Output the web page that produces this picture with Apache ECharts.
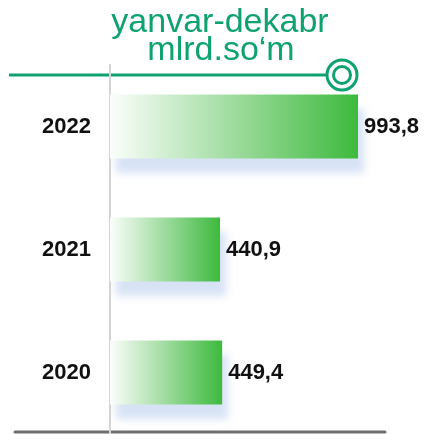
<!DOCTYPE html>
<html>
<head>
<meta charset="utf-8">
<script src="https://cdn.jsdelivr.net/npm/echarts@6/dist/echarts.min.js"></script>
<style>
html, body { margin: 0; padding: 0; background: #fff; }
#chart { width: 432px; height: 434px; }
</style>
</head>
<body>
<div id="chart"></div>
<script>
var years = ['2020', '2021', '2022']
var values = [449.4, 440.9, 993.8]
var titleLines = ['yanvar-dekabr', 'mlrd.so‘m']

var green = '#0ea271'
var labelFont = '"Liberation Sans", Arial, sans-serif'
var titleFont = '34px "Liberation Sans", Arial, sans-serif'

var myChart = echarts.init(document.getElementById('chart'))
myChart.setOption({
	animation: false,
	grid: { left: 110, right: 30, top: 65, bottom: -12 },
	xAxis: {
		type: 'value',
		min: 0,
		max: 1170,
		show: false
	},
	yAxis: {
		type: 'category',
		data: years,
		axisLine: { show: true, onZero: false, lineStyle: { color: '#d4d4d4', width: 2 } },
		axisTick: { show: false },
		axisLabel: {
			margin: 19,
			color: '#111',
			fontFamily: labelFont,
			fontWeight: 'bold',
			fontSize: 22
		}
	},
	series: [{
		type: 'bar',
		data: values,
		barWidth: 64,
		itemStyle: {
			color: {
				type: 'linear', x: 0, y: 0, x2: 1, y2: 0,
				colorStops: [
					{ offset: 0, color: '#fbfefb' },
					{ offset: 0.5, color: '#9edb9e' },
					{ offset: 1, color: '#3dba3d' }
				]
			},
			shadowColor: 'rgba(175,198,235,0.5)',
			shadowBlur: 8,
			shadowOffsetX: 6,
			shadowOffsetY: 14
		},
		label: {
			show: true,
			position: 'right',
			distance: 6,
			color: '#111',
			fontFamily: labelFont,
			fontWeight: 'bold',
			fontSize: 22,
			formatter: function (p) {
				return String(p.value).replace('.', ',')
			}
		}
	}],
	graphic: [
		{
			type: 'text', x: 220, y: 23,
			style: { text: titleLines[0], fill: green, font: titleFont, align: 'center', verticalAlign: 'middle' }
		},
		{
			type: 'text', x: 221, y: 51,
			style: { text: titleLines[1], fill: green, font: titleFont, align: 'center', verticalAlign: 'middle' }
		},
		{
			type: 'line',
			shape: { x1: 9, y1: 75, x2: 327, y2: 75 },
			style: { stroke: green, lineWidth: 3 }
		},
		{
			type: 'circle',
			shape: { cx: 342, cy: 75, r: 15 },
			style: { fill: '#fff', stroke: green, lineWidth: 3 }
		},
		{
			type: 'circle',
			shape: { cx: 342, cy: 75, r: 8.5 },
			style: { fill: '#fff', stroke: green, lineWidth: 3 }
		},
		{
			type: 'line',
			shape: { x1: 15, y1: 432, x2: 385, y2: 432 },
			style: { stroke: '#6f6f6f', lineWidth: 3, lineCap: 'round' }
		}
	]
})
</script>
</body>
</html>
